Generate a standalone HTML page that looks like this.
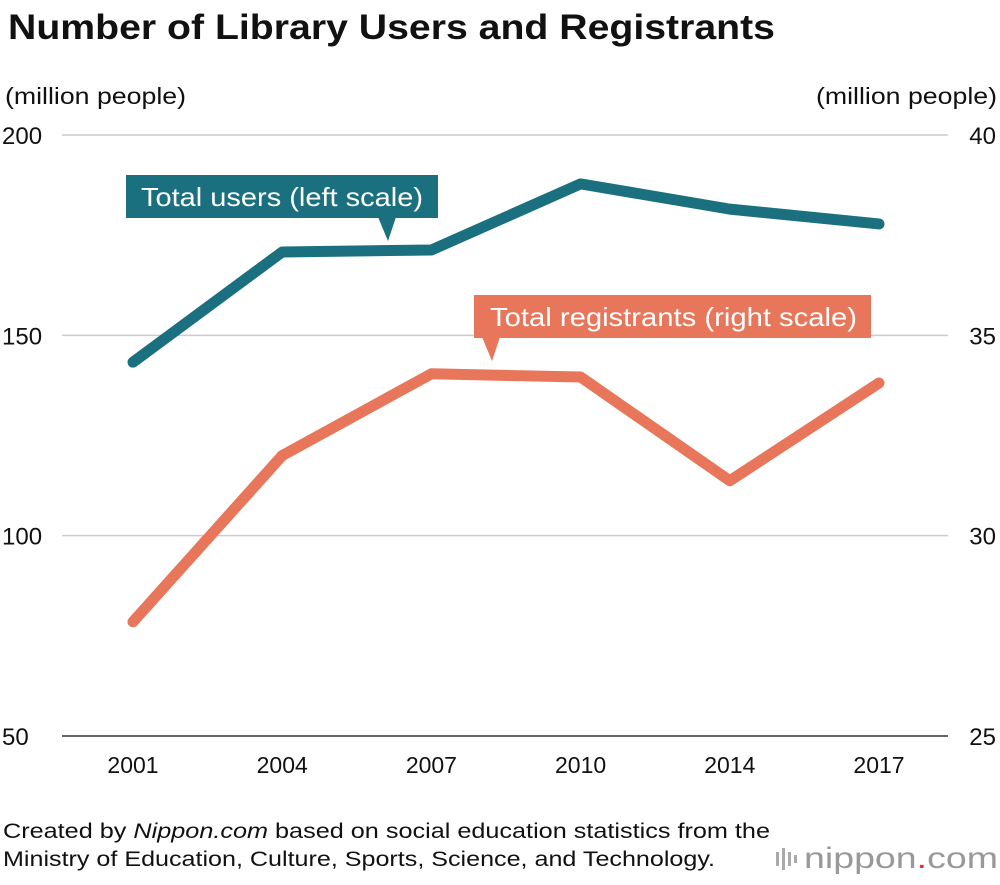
<!DOCTYPE html>
<html><head><meta charset="utf-8"><style>
body{margin:0;background:#fff;font-family:"Liberation Sans",sans-serif;}
svg text{font-family:"Liberation Sans",sans-serif;}
</style></head><body>
<svg width="1000" height="880">
<text x="8" y="39" font-size="35" font-weight="bold" fill="#111" textLength="767" lengthAdjust="spacingAndGlyphs">Number of Library Users and Registrants</text>
<text x="5" y="104" font-size="23" fill="#111" textLength="181" lengthAdjust="spacingAndGlyphs">(million people)</text>
<text x="816" y="104" font-size="23" fill="#111" textLength="181" lengthAdjust="spacingAndGlyphs">(million people)</text>
<g id="grid"></g><g id="lines"></g>
<g>
<rect x="126" y="175" width="312" height="43" fill="#1b7080"/>
<polygon points="378,217 396,217 388,241" fill="#1b7080"/>
<text x="141" y="206" font-size="26" fill="#fff" textLength="282" lengthAdjust="spacingAndGlyphs">Total users (left scale)</text></g>
<g>
<rect x="474" y="295" width="397" height="43" fill="#e8765a"/>
<polygon points="482,337 500,337 492,361" fill="#e8765a"/>
<text x="490" y="326" font-size="26" fill="#fff" textLength="367" lengthAdjust="spacingAndGlyphs">Total registrants (right scale)</text></g>
<text x="3" y="838" font-size="21" fill="#111" textLength="767" lengthAdjust="spacingAndGlyphs">Created by <tspan font-style="italic">Nippon.com</tspan> based on social education statistics from the</text>
<text x="3" y="866" font-size="21" fill="#111" textLength="712" lengthAdjust="spacingAndGlyphs">Ministry of Education, Culture, Sports, Science, and Technology.</text>
<g>
<rect x="776" y="852" width="3" height="14" fill="#aaa"/><rect x="782" y="848" width="3" height="22" fill="#aaa"/><rect x="788" y="852" width="3" height="14" fill="#aaa"/><rect x="794" y="855" width="3" height="8" fill="#aaa"/>
<text x="804" y="868" font-size="30" fill="#999" textLength="194" lengthAdjust="spacingAndGlyphs">nippon<tspan fill="#e03030">.</tspan>com</text></g>
</svg>
<script>
const years=["2001","2004","2007","2010","2014","2017"];
const users=[143.3,170.8,171.3,187.8,181.5,177.8];
const registrants=[27.85,32.0,34.04,33.96,31.37,33.81];
const leftTicks=[50,100,150,200];
const rightTicks=[25,30,35,40];
const NS="http://www.w3.org/2000/svg";
const yL=v=>736-(v-50)*601/150;
const yR=v=>736-(v-25)*601/15;
const xS=i=>133+i*149.2;
const grid=document.getElementById('grid'),lines=document.getElementById('lines');
function mk(tag,attrs,parent,text){const e=document.createElementNS(NS,tag);for(const k in attrs)e.setAttribute(k,attrs[k]);if(text!==undefined)e.textContent=text;parent.appendChild(e);return e;}
leftTicks.forEach((t,i)=>{const y=yL(t);
const g=mk('line',{x1:62,x2:948,y1:y,y2:y,stroke:i==0?'#333':'#ccc','stroke-width':1.5},grid);


const tx=mk('text',{x:2,y:y+9,'font-size':24,fill:'#111'},grid,t);


const tr=mk('text',{x:996,y:yR(rightTicks[i])+9,'font-size':24,fill:'#111','text-anchor':'end'},grid,rightTicks[i]);

});
years.forEach((yr,i)=>{const t=mk('text',{x:xS(i),y:773,'font-size':23,fill:'#111','text-anchor':'middle'},grid,yr);

});
const pu=mk('polyline',{points:users.map((v,i)=>xS(i)+','+yL(v)).join(' '),fill:'none',stroke:'#1b7080','stroke-width':11,'stroke-linecap':'round','stroke-linejoin':'round'},lines);


const pr=mk('polyline',{points:registrants.map((v,i)=>xS(i)+','+yR(v)).join(' '),fill:'none',stroke:'#e8765a','stroke-width':11,'stroke-linecap':'round','stroke-linejoin':'round'},lines);


</script>
</body></html>
